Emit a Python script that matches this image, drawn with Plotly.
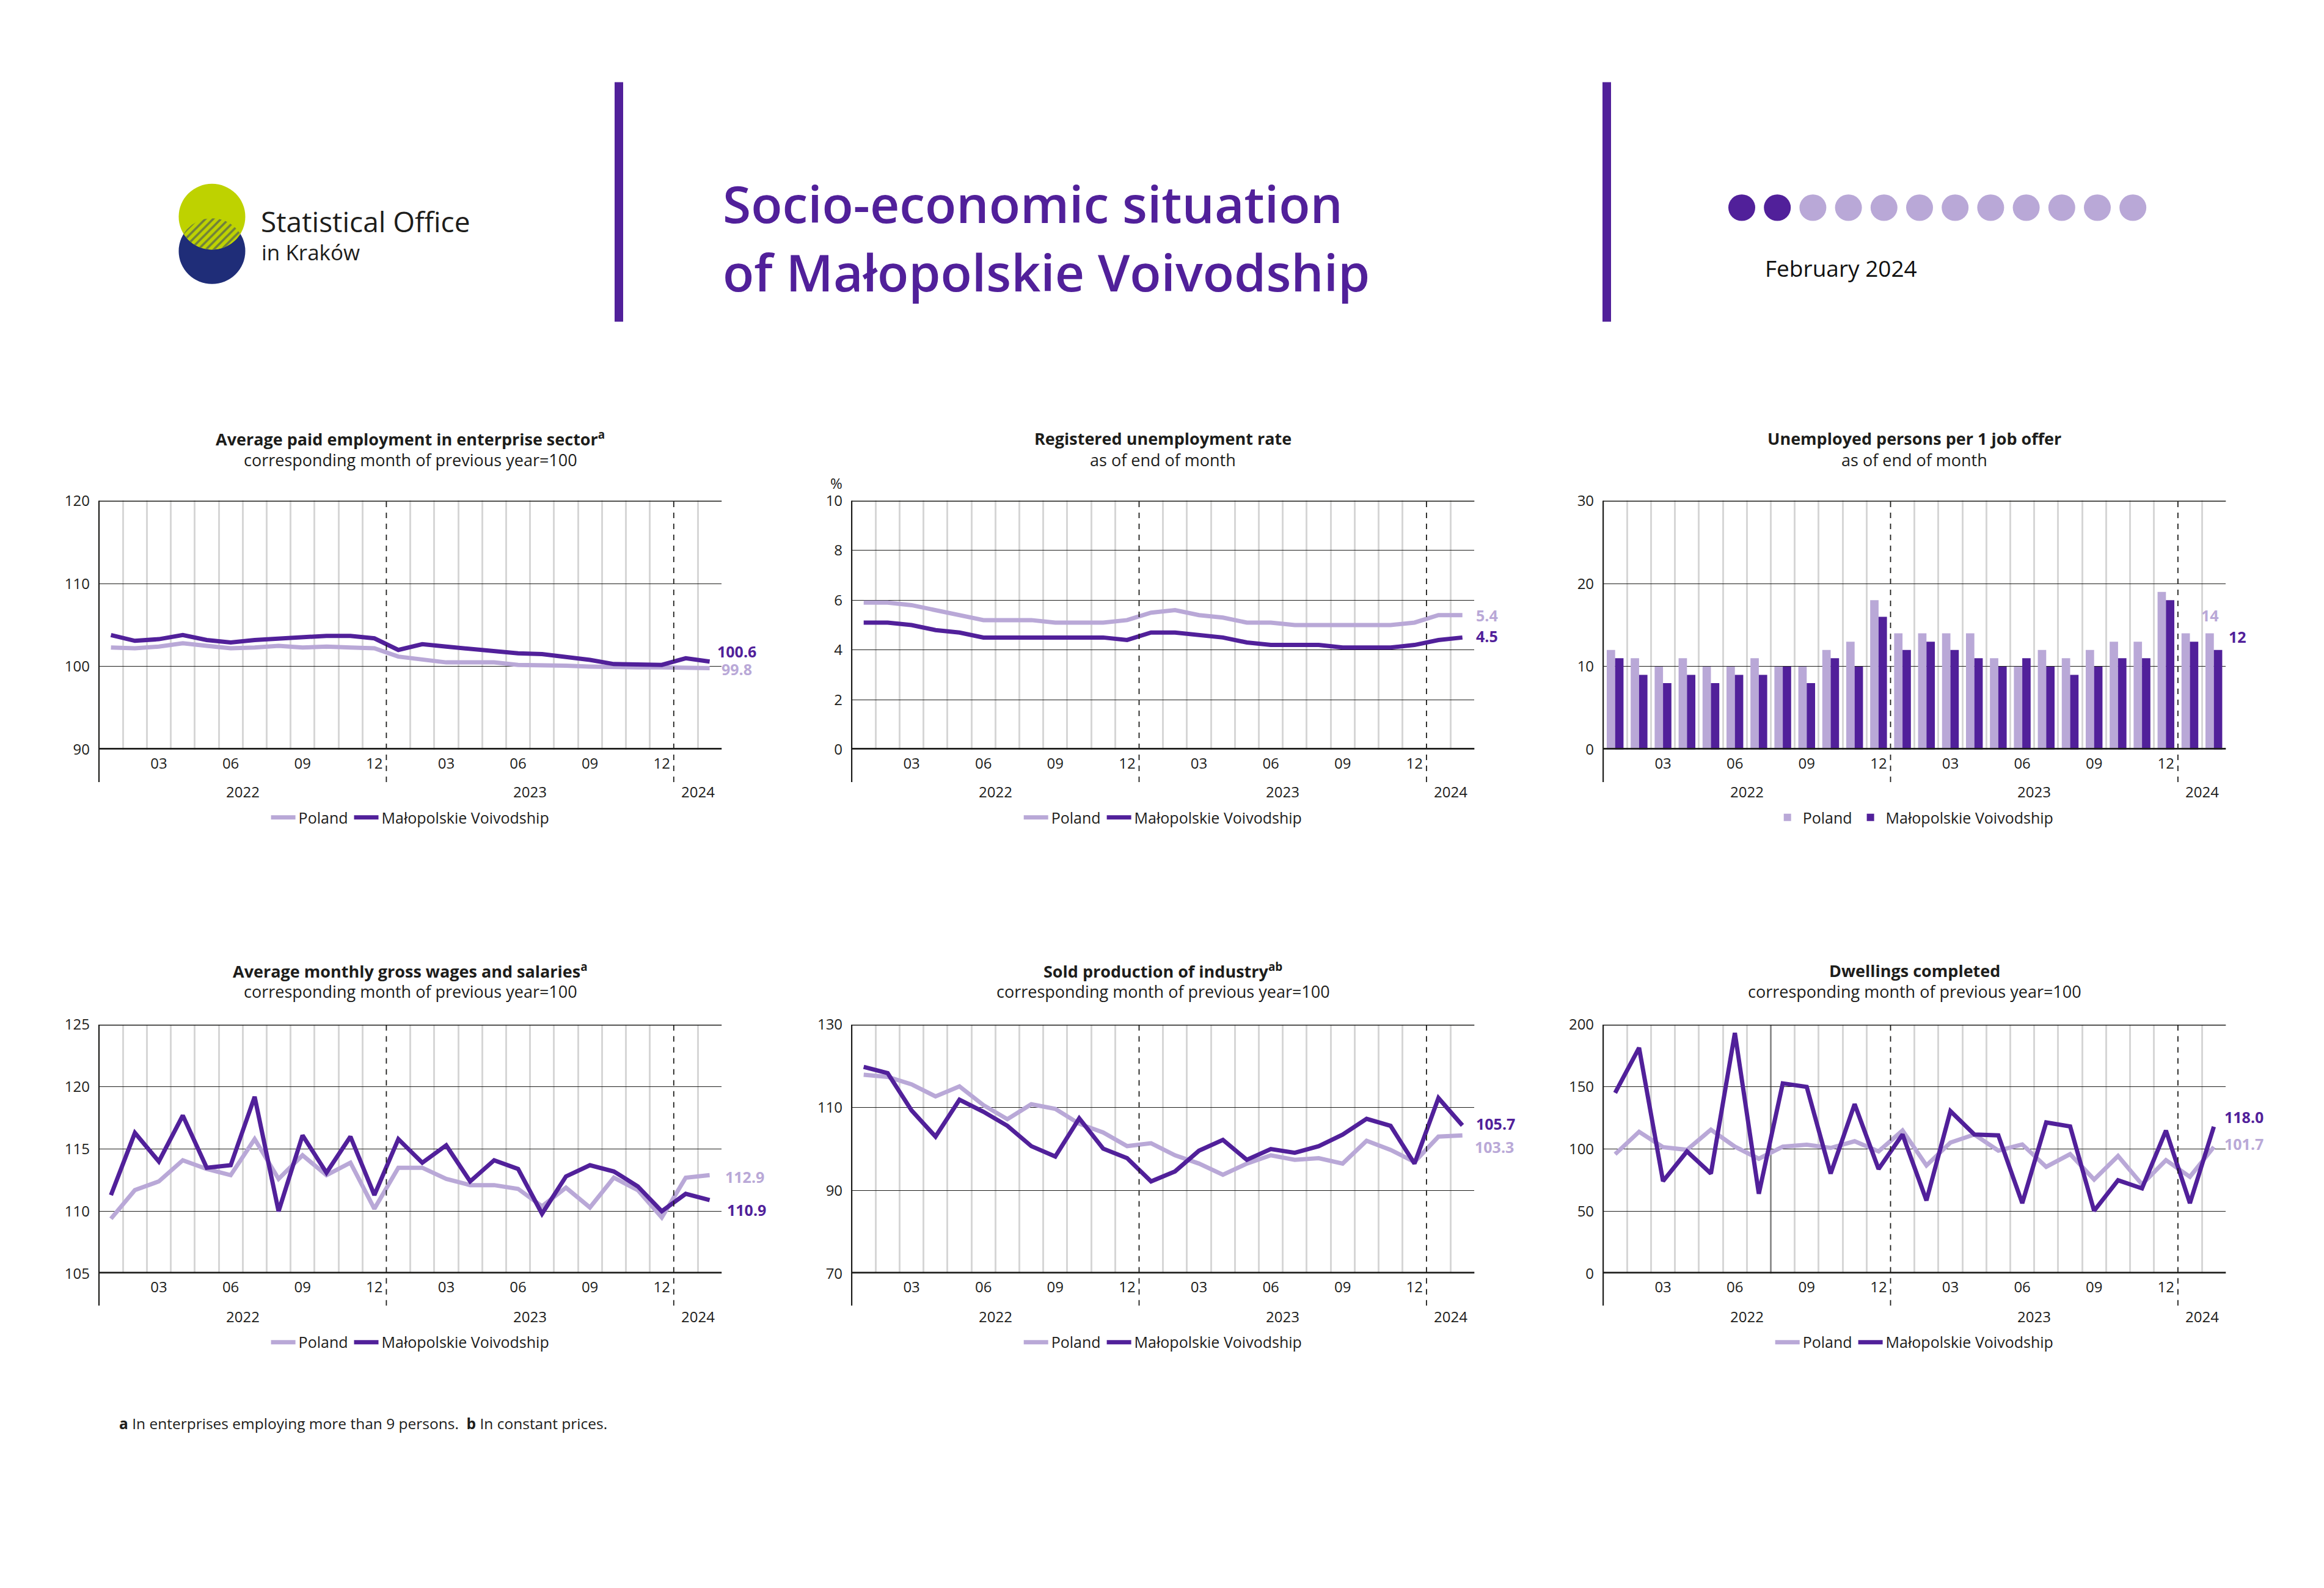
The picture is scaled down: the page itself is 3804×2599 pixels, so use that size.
import numpy as np
import plotly.graph_objects as go

W, H = 3804, 2599


def X(px):
    return px / W


def Y(py):
    return 1 - py / H


# ---------------------------------------------------------------- data
months = ["2022-01", "2022-02", "2022-03", "2022-04", "2022-05", "2022-06",
          "2022-07", "2022-08", "2022-09", "2022-10", "2022-11", "2022-12",
          "2023-01", "2023-02", "2023-03", "2023-04", "2023-05", "2023-06",
          "2023-07", "2023-08", "2023-09", "2023-10", "2023-11", "2023-12",
          "2024-01", "2024-02"]
month_tick_labels = ["03", "06", "09", "12"]
years = ["2022", "2023", "2024"]
series_names = ["Poland", "Małopolskie Voivodship"]

employment_poland = [102.3, 102.2, 102.4, 102.8, 102.5, 102.2, 102.3, 102.5, 102.3, 102.4, 102.3, 102.2,
                     101.2, 100.9, 100.5, 100.5, 100.5, 100.2, 100.2, 100.1, 100.0, 99.9, 99.9, 99.9,
                     99.9, 99.8]
employment_malopolska = [103.8, 103.1, 103.3, 103.8, 103.2, 102.9, 103.2, 103.4, 103.5, 103.7, 103.7, 103.4,
                         102.0, 102.7, 102.4, 102.1, 101.9, 101.6, 101.5, 101.2, 100.8, 100.3, 100.2, 100.2,
                         101.0, 100.6]
employment_ticks = [90, 100, 110, 120]

unemployment_poland = [5.9, 5.9, 5.8, 5.6, 5.4, 5.2, 5.2, 5.2, 5.1, 5.1, 5.1, 5.2,
                       5.5, 5.6, 5.4, 5.3, 5.1, 5.1, 5.0, 5.0, 5.0, 5.0, 5.0, 5.1,
                       5.4, 5.4]
unemployment_malopolska = [5.1, 5.1, 5.0, 4.8, 4.7, 4.5, 4.5, 4.5, 4.5, 4.5, 4.5, 4.4,
                           4.7, 4.7, 4.6, 4.5, 4.3, 4.2, 4.2, 4.2, 4.1, 4.1, 4.1, 4.2,
                           4.4, 4.5]
unemployment_ticks = [0, 2, 4, 6, 8, 10]

job_offer_poland = [12, 11, 10, 11, 10, 10, 11, 10, 10, 12, 13, 18,
                    14, 14, 14, 14, 11, 10, 12, 11, 12, 13, 13, 19,
                    14, 14]
job_offer_malopolska = [11, 9, 8, 9, 8, 9, 9, 10, 8, 11, 10, 16,
                        12, 13, 12, 11, 10, 11, 10, 9, 10, 11, 11, 18,
                        13, 12]
job_offer_ticks = [0, 10, 20, 30]

wages_poland = [109.4, 111.7, 112.4, 114.1, 113.4, 112.9, 115.8, 112.6, 114.5, 112.9, 113.9, 110.2,
                113.5, 113.5, 112.6, 112.1, 112.1, 111.8, 110.4, 111.9, 110.3, 112.7, 111.7, 109.5,
                112.7, 112.9]
wages_malopolska = [111.3, 116.3, 114.0, 117.7, 113.5, 113.7, 119.2, 110.0, 116.1, 113.1, 116.0, 111.3,
                    115.8, 113.9, 115.3, 112.4, 114.1, 113.4, 109.8, 112.8, 113.7, 113.2, 112.0, 110.0,
                    111.4, 110.9]
wages_ticks = [105, 110, 115, 120, 125]

production_poland = [117.9, 117.4, 115.6, 112.7, 115.1, 110.6, 107.2, 110.8, 109.7, 106.1, 104.0, 100.7,
                     101.4, 98.5, 96.5, 93.8, 96.5, 98.5, 97.4, 97.8, 96.5, 102.0, 99.8, 96.9,
                     103.0, 103.3]
production_malopolska = [119.8, 118.3, 109.3, 103.0, 111.9, 109.0, 105.6, 100.7, 98.2, 107.4, 100.1, 97.8,
                         92.2, 94.6, 99.6, 102.2, 97.4, 100.0, 99.1, 100.7, 103.5, 107.3, 105.6, 96.5,
                         112.3, 105.7]
production_ticks = [70, 90, 110, 130]

dwellings_poland = [95.9, 113.9, 101.5, 99.4, 115.6, 101.9, 92.2, 101.9, 103.5, 100.9, 106.3, 98.1,
                    114.9, 86.8, 105.2, 111.7, 98.7, 103.7, 85.7, 95.9, 75.5, 94.4, 71.6, 91.1,
                    77.7, 101.7]
dwellings_malopolska = [145.2, 181.4, 74.2, 98.1, 80.3, 193.3, 64.1, 152.8, 150.0, 80.3, 136.1, 84.0,
                        111.7, 58.7, 130.5, 111.7, 111.0, 56.5, 121.4, 118.2, 50.4, 74.9, 68.4, 114.9,
                        56.5, 118.0]
dwellings_ticks = [0, 50, 100, 150, 200]

report_months_total = 12
report_month_current = 2

# ---------------------------------------------------------------- style
FONT = "Open Sans"
TXT = "#1d1d1b"
LIGHT = "#b9a8d7"
DARK = "#51209a"
GRID_V = "#d6d6d6"
LOGO_YELLOW = "#bed200"
LOGO_BLUE = "#1f2d78"

cols = [(162.0, 1181.2), (1394.1, 2413.3), (2624.1, 3643.3)]
rows = [dict(top=811.7, bot=1224.2, title=708, sub=744, year=1294, legend=1337, ext=1278.2),
        dict(top=1680.3, bot=2092.8, title=1591, sub=1625, year=2164, legend=2207, ext=2146)]

charts = [
    dict(title="Average paid employment in enterprise sector<sup>a</sup>",
         sub="corresponding month of previous year=100", kind="line",
         pol=employment_poland, mal=employment_malopolska, ticks=employment_ticks, fmt="{:.1f}",
         lab_pol=dict(xshift=17, yshift=-1, xanchor="left"),
         lab_mal=dict(xshift=10, yshift=17, xanchor="left")),
    dict(title="Registered unemployment rate", sub="as of end of month", kind="line",
         pol=unemployment_poland, mal=unemployment_malopolska, ticks=unemployment_ticks, fmt="{:.1f}",
         lab_pol=dict(xshift=20, yshift=0, xanchor="left"),
         lab_mal=dict(xshift=20, yshift=2, xanchor="left"), unit="%"),
    dict(title="Unemployed persons per 1 job offer", sub="as of end of month", kind="bar",
         pol=job_offer_poland, mal=job_offer_malopolska, ticks=job_offer_ticks, fmt="{:.0f}",
         lab_pol=dict(xshift=-6, yshift=30, xanchor="center"),
         lab_mal=dict(xshift=22, yshift=22, xanchor="left")),
    dict(title="Average monthly gross wages and salaries<sup>a</sup>",
         sub="corresponding month of previous year=100", kind="line",
         pol=wages_poland, mal=wages_malopolska, ticks=wages_ticks, fmt="{:.1f}",
         lab_pol=dict(xshift=23, yshift=-3, xanchor="left"),
         lab_mal=dict(xshift=26, yshift=-16, xanchor="left")),
    dict(title="Sold production of industry<sup>ab</sup>",
         sub="corresponding month of previous year=100", kind="line",
         pol=production_poland, mal=production_malopolska, ticks=production_ticks, fmt="{:.1f}",
         lab_pol=dict(xshift=18, yshift=-19, xanchor="left"),
         lab_mal=dict(xshift=20, yshift=3, xanchor="left")),
    dict(title="Dwellings completed",
         sub="corresponding month of previous year=100", kind="line",
         pol=dwellings_poland, mal=dwellings_malopolska, ticks=dwellings_ticks, fmt="{:.1f}",
         lab_pol=dict(xshift=15, yshift=5, xanchor="left"),
         lab_mal=dict(xshift=15, yshift=16, xanchor="left"),
         solid_after="2022-07"),
]

xs = list(range(len(months)))
tick_pos = [i for i, m in enumerate(months) if m[5:] in month_tick_labels]
tick_txt = [months[i][5:] for i in tick_pos]
year_bounds = [i + 0.5 for i in range(len(months) - 1) if months[i][5:] == "12"]

fig = go.Figure()
shapes = []
annotations = []
layout = dict(width=W, height=H, margin=dict(l=0, r=0, t=0, b=0),
              paper_bgcolor="white", plot_bgcolor="white",
              font=dict(family=FONT, color=TXT, size=24),
              barmode="group", bargap=0.3, bargroupgap=0.0,
              showlegend=True)

for k, ch in enumerate(charts):
    n = k + 1
    r = rows[k // 3]
    c0, c1 = cols[k % 3]
    xa = "x" if n == 1 else f"x{n}"
    ya = "y" if n == 1 else f"y{n}"
    lg = "legend" if n == 1 else f"legend{n}"
    ylo, yhi = ch["ticks"][0], ch["ticks"][-1]
    solid_b = months.index(ch["solid_after"]) + 0.5 if "solid_after" in ch else None
    month_bounds = [i + 0.5 for i in range(len(months) - 1)
                    if months[i][5:] != "12" and (i + 0.5) != solid_b]

    for vals, color, name in ((ch["pol"], LIGHT, series_names[0]), (ch["mal"], DARK, series_names[1])):
        if ch["kind"] == "bar":
            fig.add_trace(go.Bar(x=xs, y=vals, name=name, marker=dict(color=color, line=dict(width=0)),
                                 xaxis=xa, yaxis=ya, legend=lg, hoverinfo="skip"))
        else:
            fig.add_trace(go.Scatter(x=xs, y=vals, name=name, mode="lines",
                                     line=dict(color=color, width=7),
                                     xaxis=xa, yaxis=ya, legend=lg, hoverinfo="skip"))

    layout["xaxis" if n == 1 else f"xaxis{n}"] = dict(
        domain=[X(c0), X(c1)], anchor=ya, range=[-0.5, len(months) - 0.5],
        tickmode="array", tickvals=tick_pos, ticktext=tick_txt, ticks="",
        showgrid=False, zeroline=False, showline=False, fixedrange=True,
        tickfont=dict(size=24, color=TXT), ticklabelstandoff=6,
        minor=dict(tickmode="array", tickvals=month_bounds, showgrid=True,
                   gridcolor=GRID_V, gridwidth=2.6, ticks=""))
    layout["yaxis" if n == 1 else f"yaxis{n}"] = dict(
        domain=[Y(r["bot"]), Y(r["top"])], anchor=xa, range=[ylo, yhi],
        tickmode="array", tickvals=ch["ticks"], ticks="",
        showgrid=True, gridcolor=TXT, gridwidth=1.4, zeroline=False, showline=False,
        fixedrange=True, tickfont=dict(size=24, color=TXT), ticklabelstandoff=14)

    ext = (r["ext"] - r["bot"]) / (r["bot"] - r["top"])
    if solid_b is not None:
        shapes.append(dict(type="line", xref=xa, yref=f"{ya} domain", x0=solid_b, x1=solid_b, y0=0, y1=1,
                           line=dict(color="#8a8a8a", width=2.8), layer="below"))
    # top frame line, thick base line, left axis line
    shapes.append(dict(type="line", xref=f"{xa} domain", yref=ya, x0=0, x1=1, y0=yhi, y1=yhi,
                       line=dict(color=TXT, width=3), layer="above"))
    shapes.append(dict(type="line", xref=f"{xa} domain", yref=ya, x0=0, x1=1, y0=ylo, y1=ylo,
                       line=dict(color=TXT, width=5.5), layer="above"))
    shapes.append(dict(type="line", xref=f"{xa} domain", yref=f"{ya} domain", x0=0, x1=0,
                       y0=-ext, y1=1, line=dict(color=TXT, width=2.2), layer="above"))
    for b in year_bounds:
        shapes.append(dict(type="line", xref=xa, yref=f"{ya} domain", x0=b, x1=b,
                           y0=-ext, y1=1, line=dict(color=TXT, width=1.8, dash="dash"), layer="above"))

    # titles
    cx = X((c0 + c1) / 2)
    annotations.append(dict(text=f"<b>{ch['title']}</b>", x=cx, y=Y(r["title"]), xref="paper", yref="paper",
                            xanchor="center", yanchor="middle", showarrow=False,
                            font=dict(size=27, color=TXT)))
    annotations.append(dict(text=ch["sub"], x=cx, y=Y(r["sub"]), xref="paper", yref="paper",
                            xanchor="center", yanchor="middle", showarrow=False,
                            font=dict(size=27, color=TXT)))
    if "unit" in ch:
        annotations.append(dict(text=ch["unit"], x=X(c0 - 25), y=Y(r["top"] - 29), xref="paper", yref="paper",
                                xanchor="center", yanchor="middle", showarrow=False,
                                font=dict(size=24, color=TXT)))
    # year labels
    for yr in years:
        idx = [i for i, m in enumerate(months) if m.startswith(yr)]
        annotations.append(dict(text=yr, x=float(np.mean(idx)), y=Y(r["year"]), xref=xa, yref="paper",
                                xanchor="center", yanchor="middle", showarrow=False,
                                font=dict(size=24, color=TXT)))
    # end-value labels
    last = len(months) - 1
    for vals, color, lab in ((ch["pol"], LIGHT, ch["lab_pol"]), (ch["mal"], DARK, ch["lab_mal"])):
        annotations.append(dict(text=f"<b>{ch['fmt'].format(vals[-1])}</b>", x=last, y=vals[-1],
                                xref=xa, yref=ya, xanchor=lab["xanchor"], yanchor="middle",
                                xshift=lab["xshift"], yshift=lab["yshift"], showarrow=False,
                                font=dict(size=25, color=color)))
    # legend
    layout[lg] = dict(orientation="h", x=cx, y=Y(r["legend"]), xanchor="center", yanchor="middle",
                      xref="paper", yref="paper", font=dict(size=25, color=TXT),
                      bgcolor="rgba(0,0,0,0)", itemwidth=40, tracegroupgap=0, itemclick=False)

# ---------------------------------------------------------------- header
# logo (own pixel-scaled axes)
lx0, lx1, ly0, ly1 = 270, 430, 270, 480
layout["xaxis7"] = dict(domain=[X(lx0), X(lx1)], range=[lx0, lx1], visible=False, fixedrange=True, anchor="y7")
layout["yaxis7"] = dict(domain=[Y(ly1), Y(ly0)], range=[ly1, ly0], visible=False, fixedrange=True, anchor="x7")
lcx, cyA, cyB, lr = 347.0, 341.0, 398.0, 54.5
shapes.append(dict(type="circle", xref="paper", yref="paper",
                   x0=X(lcx - lr), x1=X(lcx + lr), y0=Y(cyB + lr), y1=Y(cyB - lr),
                   fillcolor=LOGO_BLUE, line=dict(width=0), layer="below"))
shapes.append(dict(type="circle", xref="paper", yref="paper",
                   x0=X(lcx - lr), x1=X(lcx + lr), y0=Y(cyA + lr), y1=Y(cyA - lr),
                   fillcolor=LOGO_YELLOW, line=dict(width=0), layer="below"))
alpha = np.arccos(((cyB - cyA) / 2) / lr)
th = np.linspace(-alpha, alpha, 60)
lens_x = np.concatenate([lcx + lr * np.sin(th), lcx + lr * np.sin(th[::-1])])
lens_y = np.concatenate([cyA + lr * np.cos(th), cyB - lr * np.cos(th[::-1])])
fig.add_trace(go.Scatter(x=lens_x, y=lens_y, mode="lines", fill="toself", line=dict(width=0),
                         fillcolor=LOGO_YELLOW,
                         fillpattern=dict(shape="/", fgcolor=LOGO_BLUE, bgcolor=LOGO_YELLOW, size=9, solidity=0.4),
                         xaxis="x7", yaxis="y7", showlegend=False, hoverinfo="skip"))
annotations.append(dict(text="Statistical Office", x=X(425), y=Y(348), xref="paper", yref="paper",
                        xanchor="left", yanchor="middle", showarrow=False, font=dict(size=46, color=TXT)))
annotations.append(dict(text="in Kraków", x=X(426), y=Y(400), xref="paper", yref="paper",
                        xanchor="left", yanchor="middle", showarrow=False, font=dict(size=35, color=TXT)))

# vertical header separators
for sx in (1013, 2630):
    shapes.append(dict(type="line", xref="paper", yref="paper", x0=X(sx), x1=X(sx), y0=Y(118), y1=Y(515),
                       line=dict(color=DARK, width=14)))

annotations.append(dict(text="Socio-economic situation", x=X(1181), y=Y(319), xref="paper", yref="paper",
                        xanchor="left", yanchor="middle", showarrow=False,
                        font=dict(size=84, color=DARK, weight=600)))
annotations.append(dict(text="of Małopolskie Voivodship", x=X(1181), y=Y(432), xref="paper", yref="paper",
                        xanchor="left", yanchor="middle", showarrow=False,
                        font=dict(size=84, color=DARK, weight=600)))

# month indicator dots
for i in range(report_months_total):
    dcx = 2851 + i * 58.2
    shapes.append(dict(type="circle", xref="paper", yref="paper",
                       x0=X(dcx - 22), x1=X(dcx + 22), y0=Y(326 + 22), y1=Y(326 - 22),
                       fillcolor=DARK if i < report_month_current else LIGHT, line=dict(width=0)))
annotations.append(dict(text="February 2024", x=X(2887), y=Y(426), xref="paper", yref="paper",
                        xanchor="left", yanchor="middle", showarrow=False,
                        font=dict(size=37, color="#111111")))

# footnote
annotations.append(dict(text="<b>a</b> In enterprises employing more than 9 persons.\u00a0 <b>b</b> In constant prices.",
                        x=X(193), y=Y(2341), xref="paper", yref="paper", xanchor="left", yanchor="middle",
                        showarrow=False, font=dict(size=24.5, color=TXT)))

layout["shapes"] = shapes
layout["annotations"] = annotations
fig.update_layout(**layout)

fig.write_html("out.html", config={"displayModeBar": False},
               post_script="document.body.style.margin='0';")
